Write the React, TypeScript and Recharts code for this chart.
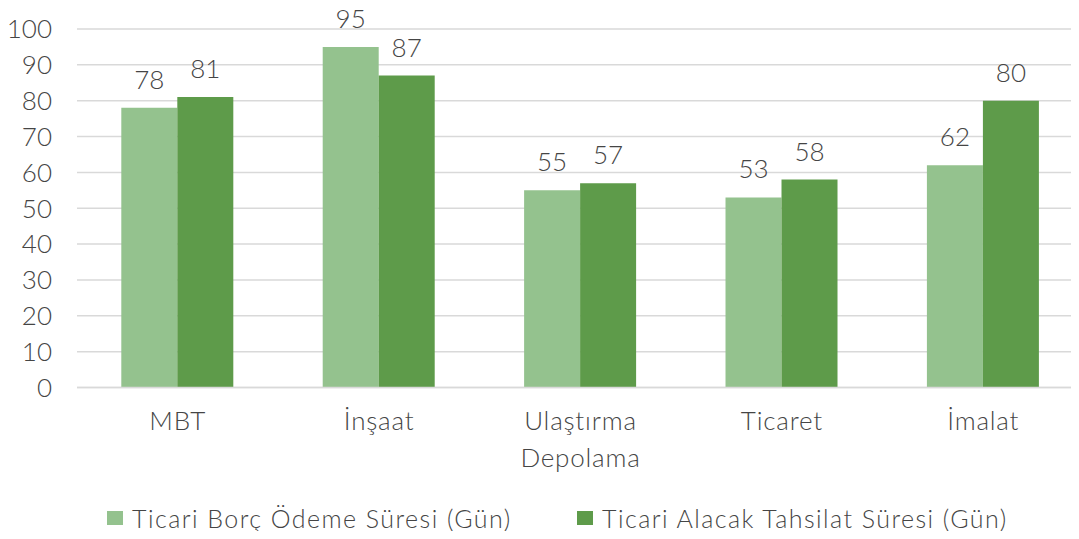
import React from "react";
import { BarChart, Bar, XAxis, YAxis, CartesianGrid, LabelList, Legend } from "recharts";

const categories = ["MBT", "İnşaat", "Ulaştırma\nDepolama", "Ticaret", "İmalat"];
const borcOdeme = [78, 95, 55, 53, 62];
const alacakTahsilat = [81, 87, 57, 58, 80];
const yTicks = [0, 10, 20, 30, 40, 50, 60, 70, 80, 90, 100];
const seriesNames = ["Ticari Borç Ödeme Süresi (Gün)", "Ticari Alacak Tahsilat Süresi (Gün)"];
const colors = ["#94c28e", "#5e9b4a"];

const data = categories.map((c, i) => ({ name: c, a: borcOdeme[i], b: alacakTahsilat[i] }));

const FONT = "Lato, 'Open Sans', sans-serif";
const TEXT = "#454545";

const YTick = (props: any) => {
  const { x, y, payload } = props;
  return (
    <text x={x} y={y} dy="0.36em" textAnchor="end" fontFamily={FONT} fontWeight={300} fontSize={26} fill={TEXT}>
      {payload.value}
    </text>
  );
};

const XTick = (props: any) => {
  const { x, y, payload } = props;
  const lines = String(payload.value).split("\n");
  return (
    <g>
      {lines.map((l, i) => (
        <text key={i} x={x} y={y + 42 + i * 37} textAnchor="middle" fontFamily={FONT} fontWeight={300} fontSize={26} fill={TEXT} letterSpacing={0.8}>
          {l}
        </text>
      ))}
    </g>
  );
};

const ValueLabel = (props: any) => {
  const { x, y, width, value } = props;
  return (
    <text x={x + width / 2} y={y - 19} textAnchor="middle" fontFamily={FONT} fontWeight={300} fontSize={26} fill={TEXT}>
      {value}
    </text>
  );
};

const LegendContent = () => (
  <div style={{ position: "relative", height: 40, fontFamily: FONT, fontWeight: 300, fontSize: 25, color: TEXT, letterSpacing: 1.45 }}>
    {seriesNames.map((n, i) => (
      <div key={n} style={{ position: "absolute", left: i === 0 ? 107 : 577, top: 4, display: "flex", alignItems: "center", whiteSpace: "nowrap" }}>
        <span style={{ display: "inline-block", width: 16, height: 14, background: colors[i], marginRight: 9 }} />
        <span>{n}</span>
      </div>
    ))}
  </div>
);

export default function App() {
  return (
    <div style={{ margin: -8, width: 1079, height: 539, overflow: "hidden", background: "#fff" }}>
      <BarChart
        width={1084}
        height={539}
        data={data}
        margin={{ top: 29, right: 0, bottom: 0, left: 0 }}
        barCategoryGap="22%"
        barGap={0}
      >
        <CartesianGrid vertical={false} stroke="#d9d9d9" strokeWidth={1.5} />
        <XAxis
          dataKey="name"
          height={111.5}
          tick={<XTick />}
          tickLine={false}
          tickSize={0}
          tickMargin={0}
          axisLine={{ stroke: "#d9d9d9", strokeWidth: 1.5 }}
          interval={0}
        />
        <YAxis
          width={77}
          domain={[0, 100]}
          ticks={yTicks}
          tick={<YTick />}
          tickLine={false}
          tickSize={0}
          tickMargin={25}
          axisLine={false}
          interval={0}
        />
        <Legend verticalAlign="bottom" height={40} content={<LegendContent />} />
        <Bar dataKey="a" name={seriesNames[0]} fill={colors[0]} isAnimationActive={false}>
          <LabelList dataKey="a" content={<ValueLabel />} />
        </Bar>
        <Bar dataKey="b" name={seriesNames[1]} fill={colors[1]} isAnimationActive={false}>
          <LabelList dataKey="b" content={<ValueLabel />} />
        </Bar>
      </BarChart>
    </div>
  );
}
